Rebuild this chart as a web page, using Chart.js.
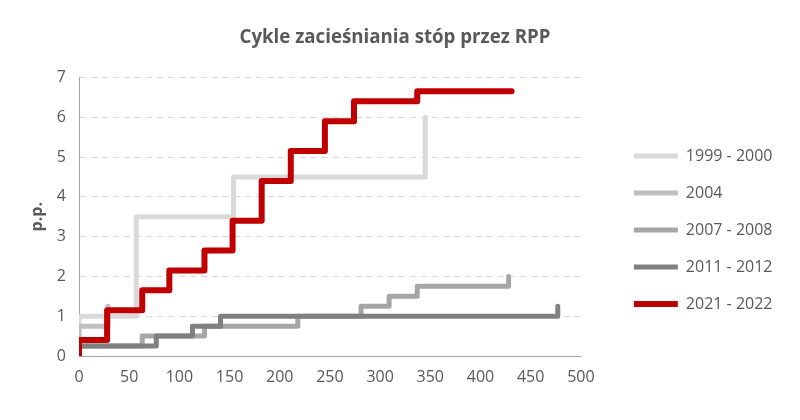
<!DOCTYPE html>
<html><head><meta charset="utf-8">
<script src="https://cdn.jsdelivr.net/npm/chart.js@4.4.1/dist/chart.umd.min.js"></script>
<style>html,body{margin:0;padding:0;background:#fff}</style>
</head><body>
<canvas id="c" width="800" height="420"></canvas>
<script>
const chartTitle = 'Cykle zacieśniania stóp przez RPP';
const yTitle = 'p.p.';
const seriesNames = ['1999 - 2000', '2004', '2007 - 2008', '2011 - 2012', '2021 - 2022'];
const seriesColors = ['#d9d9d9', '#bfbfbf', '#a6a6a6', '#808080', '#c00000'];

// day since start of cycle, cumulative change (p.p.)
const days1999 = [0, 0, 57, 154, 345];
const vals1999 = [0, 1.0, 3.5, 4.5, 6.0];
const days2004 = [0, 0, 29];
const vals2004 = [0, 0.75, 1.25];
const days2007 = [0, 0, 63, 125, 218, 281, 309, 337, 428];
const vals2007 = [0, 0.25, 0.5, 0.75, 1.0, 1.25, 1.5, 1.75, 2.0];
const days2011 = [0, 0, 77, 113, 141, 477];
const vals2011 = [0, 0.25, 0.5, 0.75, 1.0, 1.25];
const days2021 = [0, 0, 28, 63, 90, 125, 153, 182, 211, 245, 274, 337, 431];
const vals2021 = [0, 0.4, 1.15, 1.65, 2.15, 2.65, 3.4, 4.4, 5.15, 5.9, 6.4, 6.65, 6.65];

const xTicks = [0, 50, 100, 150, 200, 250, 300, 350, 400, 450, 500];
const yTicks = [0, 1, 2, 3, 4, 5, 6, 7];

const allDays = [days1999, days2004, days2007, days2011, days2021];
const allVals = [vals1999, vals2004, vals2007, vals2011, vals2021];
const widths = [5, 5, 5, 5, 6];
const orders = [5, 4, 3, 2, 1];

const textColor = '#595959';
const fontFam = "'Open Sans', sans-serif";

const datasets = seriesNames.map((name, i) => ({
  label: name,
  data: allDays[i].map((d, j) => ({x: d, y: allVals[i][j]})),
  borderColor: seriesColors[i],
  backgroundColor: seriesColors[i],
  borderWidth: widths[i],
  borderCapStyle: 'round',
  borderJoinStyle: 'round',
  stepped: true,
  pointRadius: 0,
  fill: false,
  order: orders[i]
}));

new Chart(document.getElementById('c'), {
  type: 'line',
  data: {datasets},
  options: {
    responsive: false,
    animation: false,
    layout: {padding: {left: 7.5, right: 17.5, top: 0, bottom: 0}},
    plugins: {
      title: {
        display: true, text: chartTitle, color: textColor,
        font: {family: fontFam, size: 18.7, weight: 'bold'},
        padding: {top: 26, bottom: 29}
      },
      legend: {
        position: 'right', align: 'center', maxWidth: 400,
        title: {display: true, text: ' ', font: {size: 10}, padding: {top: 14, bottom: 14}},
        labels: {
          usePointStyle: true, pointStyle: 'line', pointStyleWidth: 44,
          padding: 21, color: textColor,
          font: {family: fontFam, size: 16},
          sort: (a, b) => a.datasetIndex - b.datasetIndex
        }
      },
      tooltip: {enabled: false}
    },
    scales: {
      x: {
        type: 'linear', min: 0, max: 500,
        afterBuildTicks: s => { s.ticks = xTicks.map(v => ({value: v})); },
        ticks: {color: textColor, font: {family: fontFam, size: 16}, padding: 12, maxRotation: 0},
        grid: {display: false, drawTicks: false},
        border: {display: true, color: '#a6a6a6', width: 1},
        afterFit: s => { s.height = 64; }
      },
      y: {
        type: 'linear', min: 0, max: 7,
        afterBuildTicks: s => { s.ticks = yTicks.map(v => ({value: v})); },
        ticks: {color: textColor, font: {family: fontFam, size: 16}, padding: 13},
        grid: {color: '#d9d9d9', lineWidth: 1, drawTicks: false},
        border: {display: true, color: '#a6a6a6', width: 1, dash: [6, 5]},
        title: {display: true, text: yTitle, color: textColor, font: {family: fontFam, size: 16, weight: 'bold'}, padding: {top: 20.5, bottom: 0}},
        afterFit: s => { s.width = 71.5; }
      },
      gap: {
        type: 'linear', position: 'right', display: true,
        grid: {display: false, drawTicks: false},
        border: {display: false},
        ticks: {display: false},
        afterFit: s => { s.width = 32; }
      }
    }
  }
});
</script>
</body></html>
